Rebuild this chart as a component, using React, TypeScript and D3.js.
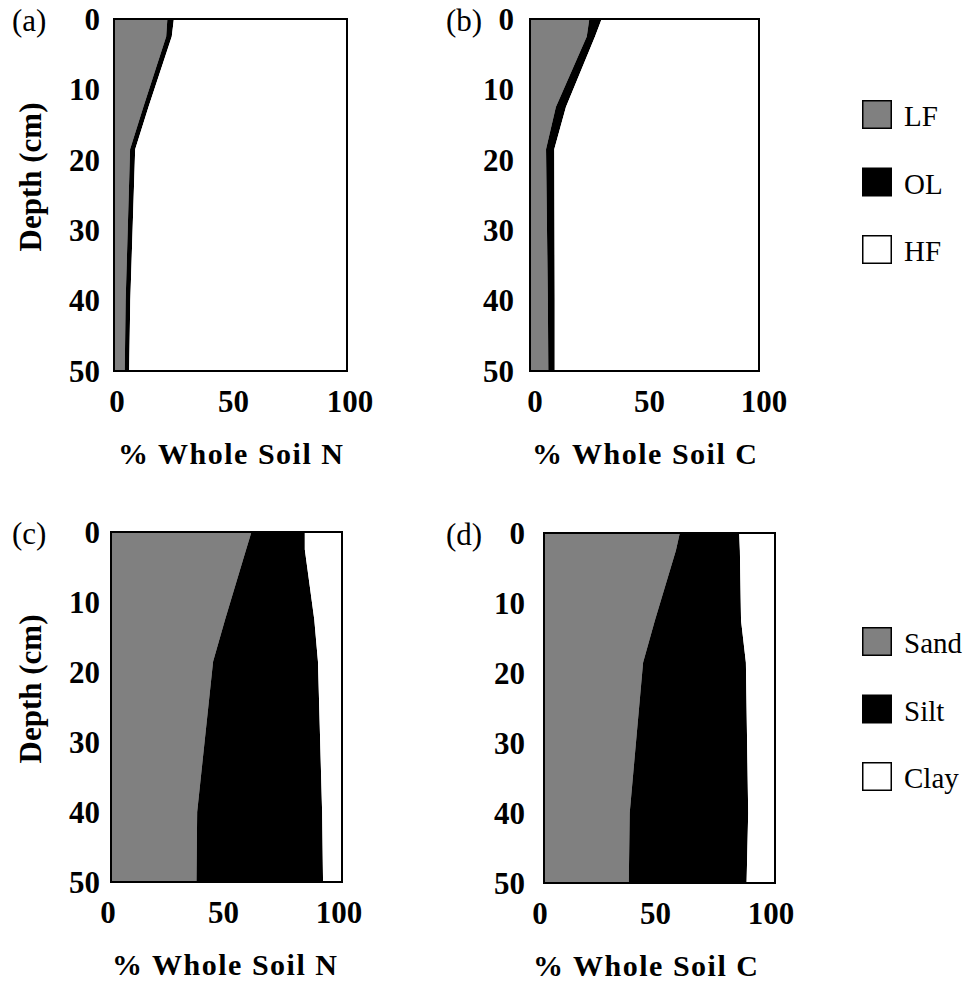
import React from 'react';
import * as d3 from 'd3';

// depth points (cm) shared by all four profiles
const depths = [0, 2.5, 12.5, 18.5, 40, 50];

// (a) % of whole soil N
const lfN = [22.9, 22.4, 12.6, 6.9, 5.0, 4.6];
const olN = [2.8, 2.4, 2.2, 2.2, 2.0, 1.9];
// (b) % of whole soil C
const lfC = [25.9, 24.8, 11.3, 7.0, 7.8, 8.0];
const olC = [5.4, 3.6, 4.4, 3.6, 3.0, 2.8];
// (c) particle size fractions, N
const sandN = [60.8, 58.5, 49.4, 44.2, 37.3, 37.0];
const siltN = [23.1, 25.4, 38.6, 45.4, 54.1, 54.8];
// (d) particle size fractions, C
const sandC = [58.8, 57.1, 48.0, 42.9, 37.1, 36.7];
const siltC = [25.7, 27.7, 37.3, 44.5, 51.3, 51.0];

const depthTicks = [0, 10, 20, 30, 40, 50];
const pctTicks = [0, 50, 100];
const densityKeys = ['LF', 'OL', 'HF'];
const sizeKeys = ['Sand', 'Silt', 'Clay'];
const fills = ['#808080', '#000000', '#ffffff'];

const serif = '"Liberation Serif", "Times New Roman", serif';

type Row = { depth: number; [k: string]: number };

function buildRows(keys: string[], a: number[], b: number[]): Row[] {
  return depths.map((depth, i) => ({
    depth,
    [keys[0]]: a[i],
    [keys[1]]: b[i],
    [keys[2]]: 100 - a[i] - b[i],
  }));
}

const panels = [
  { tag: '(a)', title: '% Whole Soil N', keys: densityKeys, rows: buildRows(densityKeys, lfN, olN),
    x: 114, y: 19, w: 233, h: 352, yLab: 14, xDx: 3, tDx: 0, tagX: 12, showDepth: true },
  { tag: '(b)', title: '% Whole Soil C', keys: densityKeys, rows: buildRows(densityKeys, lfC, olC),
    x: 530, y: 19, w: 229, h: 352, yLab: 16, xDx: 5, tDx: 0, tagX: 446, showDepth: false },
  { tag: '(c)', title: '% Whole Soil N', keys: sizeKeys, rows: buildRows(sizeKeys, sandN, siltN),
    x: 111, y: 532, w: 231, h: 350, yLab: 11, xDx: -3, tDx: -2, tagX: 12, showDepth: true },
  { tag: '(d)', title: '% Whole Soil C', keys: sizeKeys, rows: buildRows(sizeKeys, sandC, siltC),
    x: 544, y: 533, w: 231, h: 350, yLab: 19, xDx: -4, tDx: -14, tagX: 446, showDepth: false },
];

const legends = [
  { keys: densityKeys, top: 100 },
  { keys: sizeKeys, top: 627 },
];

function Panel({ p }: { p: (typeof panels)[number] }) {
  const x = d3.scaleLinear().domain([0, 100]).range([0, p.w]);
  const y = d3.scaleLinear().domain([0, 50]).range([0, p.h]);
  const series = d3.stack<Row>().keys(p.keys)(p.rows);
  const area = d3
    .area<d3.SeriesPoint<Row>>()
    .y(d => y(d.data.depth))
    .x0(d => x(d[0]))
    .x1(d => x(d[1]));

  return (
    <g transform={`translate(${p.x},${p.y})`}>
      <rect width={p.w} height={p.h} fill="#fff" />
      {series.map((s, i) => (
        <path key={s.key} d={area(s) || ''} fill={fills[i]} />
      ))}
      <rect width={p.w} height={p.h} fill="none" stroke="#000" strokeWidth={2} />
      {depthTicks.map(t => (
        <text key={t} x={-p.yLab} y={y(t)} dy="0.35em" textAnchor="end"
          fontFamily={serif} fontWeight="bold" fontSize={31}>{t}</text>
      ))}
      {pctTicks.map(t => (
        <text key={t} x={x(t) + p.xDx} y={p.h + 41} textAnchor="middle"
          fontFamily={serif} fontWeight="bold" fontSize={31}>{t}</text>
      ))}
      <text x={p.w / 2 + p.tDx} y={p.h + 93} textAnchor="middle" fontFamily={serif}
        fontWeight="bold" fontSize={30} textLength={225} lengthAdjust="spacing">{p.title}</text>
      {p.showDepth && (
        <text transform={`translate(${30 - p.x},${p.h / 2 - 18}) rotate(-90)`} textAnchor="middle"
          dy="0.35em" fontFamily={serif} fontWeight="bold" fontSize={31}>Depth (cm)</text>
      )}
      <text x={p.tagX - p.x} y={12} fontFamily={serif} fontSize={31}>{p.tag}</text>
    </g>
  );
}

export default function App() {
  return (
    <svg width={968} height={981} style={{ position: 'absolute', left: 0, top: 0, background: '#fff' }}>
      {panels.map(p => <Panel key={p.tag} p={p} />)}
      {legends.map(l => (
        <g key={l.keys[0]} transform={`translate(862,${l.top})`}>
          {l.keys.map((k, i) => (
            <g key={k} transform={`translate(0,${i * 67.5})`}>
              <rect x={0.75} y={0.75} width={28.5} height={27.5} fill={fills[i]} stroke="#000" strokeWidth={1.5} />
              <text x={42} y={26} fontFamily={serif} fontSize={29}>{k}</text>
            </g>
          ))}
        </g>
      ))}
    </svg>
  );
}
